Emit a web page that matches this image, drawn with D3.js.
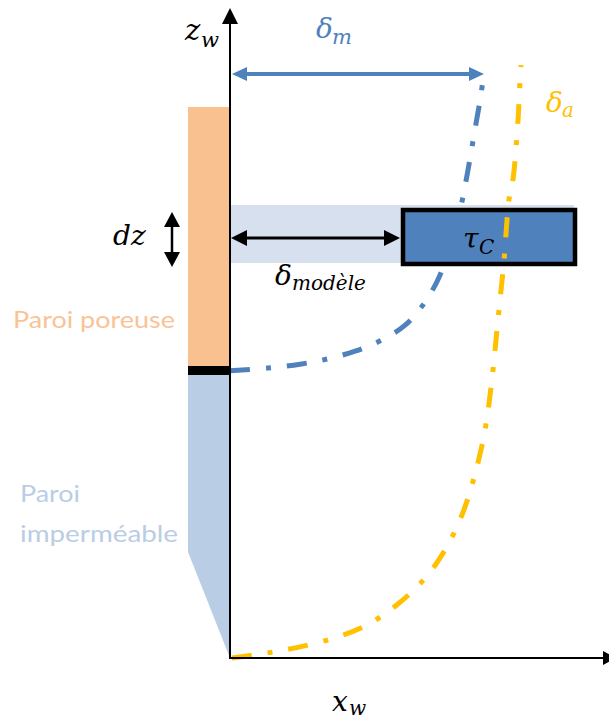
<!DOCTYPE html>
<html><head><meta charset="utf-8">
<script src="https://cdn.jsdelivr.net/npm/d3@7"></script>
<style>html,body{margin:0;padding:0;background:#fff;}svg{display:block;}</style>
</head><body>
<script>
// Profile curves in schematic units (x: 0..100 along x_w, y: 0..100 along z_w)
const blueCurveX = [0, 10.0, 18.5, 25.6, 33.0, 39.6, 46.2, 51.5, 55.4, 58.0, 60.7, 62.8, 64.6, 66.2, 67.0];
const blueCurveY = [44.2, 44.6, 45.2, 46.0, 47.2, 48.8, 51.2, 54.8, 58.9, 63.5, 68.9, 75.1, 81.2, 86.6, 90.2];
const yellowCurveX = [0.5, 7.9, 15.8, 25.9, 35.6, 44.3, 51.5, 56.7, 61.2, 64.6, 67.3, 69.1, 70.7, 72.3, 73.6, 74.7, 76.0, 76.5, 76.8];
const yellowCurveY = [0, 0.6, 1.4, 2.8, 4.9, 8.3, 12.3, 16.6, 22.0, 28.2, 35.1, 42.8, 52.0, 61.2, 70.5, 73.8, 82.8, 88.5, 91.2];
const labels = ["Paroi poreuse", "Paroi", "imperméable"];

const W = 609, H = 719;
const svg = d3.select("body").append("svg").attr("width", W).attr("height", H);
const x = d3.scaleLinear().domain([0, 100]).range([230, 609]);
const y = d3.scaleLinear().domain([0, 100]).range([658, 8]);

const BLUE = "#4F81BD", YEL = "#FFC000", ORANGE_FILL = "#F9C18F", LBLUE = "#B9CDE5", BAND = "#D6E0EF";

// wall regions
svg.append("rect").attr("x", 188).attr("y", 107).attr("width", 42).attr("height", 260).attr("fill", ORANGE_FILL);
svg.append("rect").attr("x", 188).attr("y", 366).attr("width", 42).attr("height", 9).attr("fill", "#000");
svg.append("path").attr("d", "M188,375 L230,375 L230,658 L188,552 Z").attr("fill", LBLUE);

// light band
svg.append("rect").attr("x", x(0)).attr("y", 205).attr("width", 574 - x(0)).attr("height", 58).attr("fill", BAND);
// dark box
svg.append("rect").attr("x", 403).attr("y", 210).attr("width", 172).attr("height", 54)
  .attr("fill", BLUE).attr("stroke", "#000").attr("stroke-width", 4.5);

// curves
const line = d3.line().x(d => x(d[0])).y(d => y(d[1])).curve(d3.curveCatmullRom.alpha(0.5));
svg.append("path").attr("d", line(d3.zip(blueCurveX, blueCurveY)))
  .attr("fill", "none").attr("stroke", BLUE).attr("stroke-width", 5).attr("stroke-dasharray", "20,16,5,16");
svg.append("path").attr("d", line(d3.zip(yellowCurveX, yellowCurveY)))
  .attr("fill", "none").attr("stroke", YEL).attr("stroke-width", 5).attr("stroke-dasharray", "20,16,5,16");

// axes
svg.append("line").attr("x1", 230).attr("y1", 658).attr("x2", 230).attr("y2", 22).attr("stroke", "#000").attr("stroke-width", 2);
svg.append("path").attr("d", "M222,24 L238,24 L230,8 Z").attr("fill", "#000");
svg.append("line").attr("x1", 229).attr("y1", 658).attr("x2", 604).attr("y2", 658).attr("stroke", "#000").attr("stroke-width", 2);
svg.append("path").attr("d", "M603,651 L603,665 L616,658 Z").attr("fill", "#000");

// delta_m arrow
svg.append("line").attr("x1", 244).attr("y1", 74).attr("x2", 470).attr("y2", 74).attr("stroke", BLUE).attr("stroke-width", 4);
svg.append("path").attr("d", "M232,74 L247,67 L247,81 Z").attr("fill", BLUE);
svg.append("path").attr("d", "M484,74 L469,67 L469,81 Z").attr("fill", BLUE);

// delta_modele arrow
svg.append("line").attr("x1", 244).attr("y1", 238).attr("x2", 388).attr("y2", 238).attr("stroke", "#000").attr("stroke-width", 3);
svg.append("path").attr("d", "M231,238 L247,230 L247,246 Z").attr("fill", "#000");
svg.append("path").attr("d", "M400,238 L384,230 L384,246 Z").attr("fill", "#000");

// dz arrow
svg.append("line").attr("x1", 172).attr("y1", 222).attr("x2", 172).attr("y2", 256).attr("stroke", "#000").attr("stroke-width", 2.5);
svg.append("path").attr("d", "M172,212 L164,227 L180,227 Z").attr("fill", "#000");
svg.append("path").attr("d", "M172,267 L164,252 L180,252 Z").attr("fill", "#000");

// math labels
const MF = "'DejaVu Serif', serif";
function mtxt(px, py, s, size, col) {
  svg.append("text").attr("x", px).attr("y", py).text(s).attr("font-family", MF)
    .attr("font-style", "italic").attr("font-size", size).attr("fill", col);
}
mtxt(185, 40, "z", 29, "#000"); mtxt(201, 47, "w", 21, "#000");
mtxt(316, 38, "δ", 28, BLUE); mtxt(332, 44, "m", 21, BLUE);
mtxt(546, 112, "δ", 28, YEL); mtxt(562, 117, "a", 20, YEL);
mtxt(113, 245, "dz", 28, "#000");
mtxt(275, 285, "δ", 28, "#000"); mtxt(292, 290, "modèle", 20, "#000");
mtxt(463, 248, "τ", 28, "#000"); mtxt(479, 254, "C", 20, "#000");
mtxt(332, 711, "x", 28, "#000"); mtxt(349, 715, "w", 20, "#000");

// wall labels
const TF = "Lato, 'Open Sans', sans-serif";
svg.append("text").attr("x", 13).attr("y", 328).text(labels[0]).attr("font-family", TF).attr("font-size", 24)
  .attr("fill", "#F9C396").attr("textLength", 162).attr("lengthAdjust", "spacingAndGlyphs");
svg.append("text").attr("x", 20).attr("y", 502).text(labels[1]).attr("font-family", TF).attr("font-size", 24)
  .attr("fill", LBLUE).attr("textLength", 60).attr("lengthAdjust", "spacingAndGlyphs");
svg.append("text").attr("x", 20).attr("y", 542).text(labels[2]).attr("font-family", TF).attr("font-size", 24)
  .attr("fill", LBLUE).attr("textLength", 158).attr("lengthAdjust", "spacingAndGlyphs");
</script>
</body></html>
